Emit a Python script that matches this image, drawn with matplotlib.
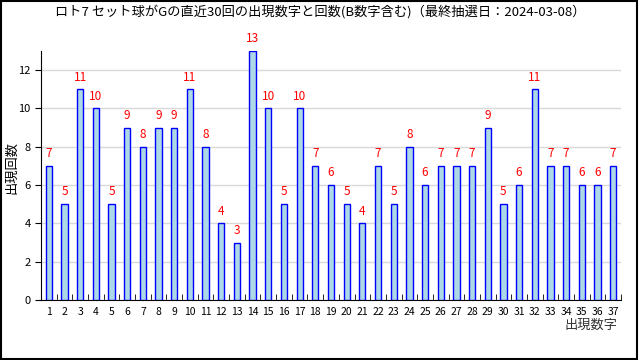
import numpy as np
import matplotlib
matplotlib.use('Agg')
import matplotlib.pyplot as plt
from matplotlib.patches import Rectangle

plt.rcParams['font.family'] = ['Noto Sans CJK JP', 'DejaVu Sans']

# Data
numbers = list(range(1, 38))
counts = [7, 5, 11, 10, 5, 9, 8, 9, 9, 11, 8, 4, 3, 13, 10, 5, 10, 7, 6, 5,
          4, 7, 5, 8, 6, 7, 7, 7, 9, 5, 6, 11, 7, 7, 6, 6, 7]
title = 'ロト7 セット球がGの直近30回の出現数字と回数(B数字含む)（最終抽選日：2024-03-08）'

fig = plt.figure(figsize=(6.4, 3.6), dpi=100)
ax = fig.add_axes([41 / 640, 60 / 360, 580 / 640, 249 / 360])

x = np.arange(len(numbers))
ax.bar(x, counts, width=0.4, color='lightblue', edgecolor='blue', linewidth=1.0, zorder=3)
for xi, c in zip(x, counts):
    ax.text(xi, c + 0.3, str(c), color='red', ha='center', va='bottom', fontsize=8.5)

ax.set_xlim(-0.5, len(numbers) - 0.5)
ax.set_ylim(0, 13)
ax.set_yticks(range(0, 13, 2))
ax.yaxis.grid(True, color='#d9d9d9', linewidth=1, zorder=0)

ax.set_xticks(x)
ax.set_xticklabels([str(n) for n in numbers], fontsize=7.5)
ax.set_xticks(np.arange(-0.5, len(numbers)), minor=True)
ax.tick_params(axis='x', which='major', length=0, pad=5)
ax.tick_params(axis='x', which='minor', direction='in', length=4, color='black')
ax.tick_params(axis='y', labelsize=8, length=4, color='black')

for side in ['top', 'right']:
    ax.spines[side].set_visible(False)

fig.text(12 / 640, 1 - 168 / 360, '出現回数', rotation=90, ha='center', va='center', fontsize=9.5)
fig.text(618 / 640, 1 - 325 / 360, '出現数字', ha='right', va='center', fontsize=9.5, color='#333333')
fig.text(0.5, 1 - 12 / 360, title, ha='center', va='center', fontsize=9.5)

# outer frame
fig.patches.append(Rectangle((0.001, 0.002), 0.994, 0.995, transform=fig.transFigure,
                             fill=False, edgecolor='black', linewidth=1.5))

fig.savefig('out.png', dpi=100)
